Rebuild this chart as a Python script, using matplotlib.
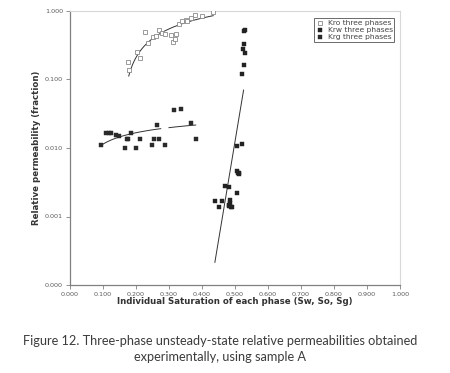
import numpy as np
import matplotlib
matplotlib.use("Agg")
import matplotlib.pyplot as plt
from matplotlib.ticker import FixedLocator, FixedFormatter, NullLocator

# ---- data ----
kro_x = [0.177, 0.178, 0.203, 0.211, 0.227, 0.237, 0.253, 0.260, 0.271, 0.278, 0.289,
         0.306, 0.313, 0.319, 0.321, 0.330, 0.338, 0.352, 0.355, 0.367, 0.378, 0.399, 0.434]
kro_y = [0.178, 0.138, 0.255, 0.204, 0.489, 0.345, 0.420, 0.436, 0.522, 0.472, 0.457,
         0.450, 0.349, 0.394, 0.457, 0.646, 0.722, 0.740, 0.720, 0.782, 0.865, 0.836, 0.967]

krw_x = [0.526, 0.529, 0.526, 0.523, 0.529, 0.526, 0.522, 0.507, 0.520, 0.506, 0.509,
         0.513, 0.511, 0.470, 0.483, 0.507, 0.439, 0.460, 0.452, 0.485, 0.486, 0.483,
         0.488, 0.491, 0.482]
krw_y = [0.516, 0.528, 0.330, 0.279, 0.244, 0.164, 0.119, 0.0106, 0.0113, 0.00467, 0.00431,
         0.00436, 0.00413, 0.00279, 0.00272, 0.00220, 0.00168, 0.00168, 0.00136, 0.00172,
         0.00159, 0.00146, 0.00139, 0.00139, 0.00144]

krg_x = [0.095, 0.109, 0.117, 0.125, 0.139, 0.148, 0.172, 0.177, 0.184, 0.166, 0.200,
         0.211, 0.247, 0.254, 0.271, 0.263, 0.287, 0.316, 0.335, 0.367, 0.381]
krg_y = [0.0111, 0.0164, 0.0164, 0.0164, 0.0153, 0.0148, 0.0134, 0.0134, 0.0166, 0.0101,
         0.00989, 0.0137, 0.0112, 0.0134, 0.0134, 0.0214, 0.0111, 0.0359, 0.0367, 0.0234,
         0.0135]

# trendline coefficients (as shown on the chart)
kro_trend = {"a": 0.833, "b": 1.55, "x0": 0.178, "x1": 0.434}            # y = a ln x + b
krg_trend = {"a": 0.00767, "b": 0.02905, "segments": [(0.095, 0.275), (0.300, 0.381)]}
krw_trend = {"c": -16.356, "m": 28.9, "x0": 0.439, "x1": 0.526}          # log10 y = c + m x

x_ticks = [0.0, 0.1, 0.2, 0.3, 0.4, 0.5, 0.6, 0.7, 0.8, 0.9, 1.0]
x_labels = ["0.000", "0.100", "0.200", "0.300", "0.400", "0.500", "0.600", "0.700",
            "0.800", "0.900", "1.000"]
y_ticks = [1e-4, 1e-3, 1e-2, 1e-1, 1.0]
y_labels = ["0.000", "0.001", "0.010", "0.100", "1.000"]

legend_labels = ["Kro three phases", "Krw three phases", "Krg three phases"]
x_title = "Individual Saturation of each phase (Sw, So, Sg)"
y_title = "Relative permeability (fraction)"
caption = ("Figure 12. Three-phase unsteady-state relative permeabilities obtained\n"
           "experimentally, using sample A")

# ---- figure ----
fig = plt.figure(figsize=(4.5, 3.73), dpi=100)
ax = fig.add_axes([70 / 450, 1 - 285 / 373, 330 / 450, 274 / 373])
ax.set_yscale("log")
ax.set_xlim(0, 1)
ax.set_ylim(1e-4, 1)

ax.plot(kro_x, kro_y, linestyle="none", marker="s", markersize=2.5,
        markerfacecolor="white", markeredgecolor="#8a8a8a", markeredgewidth=0.6,
        label=legend_labels[0], zorder=3)
ax.plot(krw_x, krw_y, linestyle="none", marker="s", markersize=2.9,
        markerfacecolor="#222222", markeredgecolor="#222222", markeredgewidth=0.3,
        label=legend_labels[1], zorder=3)
ax.plot(krg_x, krg_y, linestyle="none", marker="s", markersize=2.9,
        markerfacecolor="#2a2a2a", markeredgecolor="#2a2a2a", markeredgewidth=0.3,
        label=legend_labels[2], zorder=3)

# trendlines
xx = np.linspace(kro_trend["x0"], kro_trend["x1"], 100)
ax.plot(xx, kro_trend["a"] * np.log(xx) + kro_trend["b"], color="#333333", lw=0.7, zorder=2)
for s0, s1 in krg_trend["segments"]:
    xx = np.linspace(s0, s1, 60)
    ax.plot(xx, krg_trend["a"] * np.log(xx) + krg_trend["b"], color="#333333", lw=0.7, zorder=2)
xx = np.linspace(krw_trend["x0"], krw_trend["x1"], 50)
ax.plot(xx, 10 ** (krw_trend["c"] + krw_trend["m"] * xx), color="#333333", lw=0.7, zorder=2)

# axes styling
for side in ["left", "bottom"]:
    ax.spines[side].set_color("#808080")
    ax.spines[side].set_linewidth(0.9)
for side in ["top", "right"]:
    ax.spines[side].set_color("#d8d8d8")
    ax.spines[side].set_linewidth(0.8)

ax.xaxis.set_major_locator(FixedLocator(x_ticks))
ax.xaxis.set_major_formatter(FixedFormatter(x_labels))
ax.yaxis.set_major_locator(FixedLocator(y_ticks))
ax.yaxis.set_major_formatter(FixedFormatter(y_labels))
ax.xaxis.set_minor_locator(NullLocator())
ax.yaxis.set_minor_locator(NullLocator())
ax.tick_params(axis="both", which="major", direction="out", length=3, width=0.6,
               color="#808080", labelsize=4.6, labelcolor="#5a5a5a", pad=2)

ax.set_xlabel(x_title, fontsize=6.2, fontweight="bold", color="#333333", labelpad=0)
ax.set_ylabel(y_title, fontsize=6.2, fontweight="bold", color="#333333", labelpad=3)

leg = ax.legend(loc="upper right", bbox_to_anchor=(0.983, 0.973), fontsize=5.4,
                frameon=True, fancybox=False, edgecolor="#444444", borderpad=0.2,
                handlelength=1.0, handletextpad=0.6, labelspacing=0.1, borderaxespad=0)
leg.get_frame().set_linewidth(0.7)
for t in leg.get_texts():
    t.set_color("#444444")

fig.text(0.49, 1 - 349 / 373, caption, ha="center", va="center", fontsize=9.2,
         family="Lato", color="#3c3c3c", linespacing=1.45)

fig.savefig("out.png", dpi=100)
